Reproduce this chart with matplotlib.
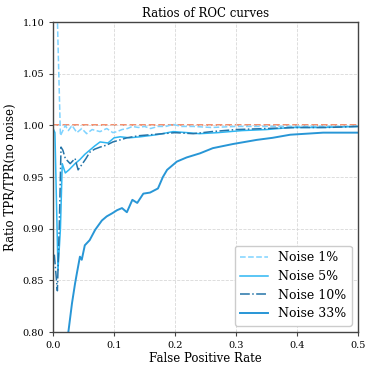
import numpy as np
import matplotlib.pyplot as plt

plt.rcParams['font.family'] = 'DejaVu Serif'

# false positive rate / ratio values
fpr_1 = [0.006, 0.008, 0.012, 0.02, 0.025, 0.031, 0.039, 0.047, 0.055, 0.064, 0.077, 0.088,
         0.098, 0.105, 0.113, 0.122, 0.13, 0.14, 0.15, 0.16, 0.172, 0.185, 0.197, 0.21,
         0.23, 0.26, 0.3, 0.35, 0.4, 0.45, 0.5]
ratio_1 = [1.13, 1.08, 0.990, 1.000, 0.995, 1.000, 0.993, 0.997, 0.992, 0.996, 0.994, 0.997,
           0.993, 0.994, 0.996, 0.997, 0.999, 0.998, 0.999, 0.997, 0.999, 0.999, 1.001, 0.999,
           0.999, 0.998, 0.999, 0.999, 0.999, 0.999, 0.999]

fpr_5 = [0.0, 0.003, 0.008, 0.012, 0.015, 0.02, 0.026, 0.031, 0.036, 0.044, 0.052, 0.06,
         0.068, 0.077, 0.09, 0.1, 0.11, 0.125, 0.143, 0.17, 0.197, 0.22, 0.24, 0.27,
         0.31, 0.35, 0.39, 0.44, 0.5]
ratio_5 = [0.997, 0.993, 0.86, 0.90, 0.963, 0.954, 0.957, 0.960, 0.963, 0.967, 0.972, 0.976,
           0.980, 0.984, 0.983, 0.988, 0.989, 0.988, 0.989, 0.991, 0.994, 0.993, 0.992, 0.993,
           0.995, 0.996, 0.998, 0.998, 0.999]

fpr_10 = [0.002, 0.007, 0.010, 0.013, 0.016, 0.02, 0.028, 0.036, 0.041, 0.047, 0.054, 0.06,
          0.068, 0.077, 0.088, 0.098, 0.11, 0.121, 0.14, 0.16, 0.18, 0.2, 0.23, 0.26, 0.3,
          0.35, 0.4, 0.45, 0.5]
ratio_10 = [0.875, 0.840, 0.90, 0.979, 0.976, 0.968, 0.963, 0.968, 0.957, 0.962, 0.968, 0.974,
            0.977, 0.979, 0.981, 0.984, 0.986, 0.988, 0.990, 0.991, 0.992, 0.993, 0.992, 0.994,
            0.996, 0.997, 0.998, 0.998, 0.999]

fpr_33 = [0.022, 0.025, 0.031, 0.036, 0.039, 0.044, 0.047, 0.052, 0.06, 0.069, 0.08, 0.088,
          0.097, 0.105, 0.113, 0.121, 0.13, 0.138, 0.148, 0.159, 0.172, 0.18, 0.187, 0.203,
          0.219, 0.241, 0.262, 0.295, 0.334, 0.36, 0.389, 0.443, 0.5]
ratio_33 = [0.78, 0.80, 0.828, 0.847, 0.857, 0.873, 0.870, 0.884, 0.889, 0.899, 0.908, 0.912,
            0.915, 0.918, 0.920, 0.916, 0.928, 0.925, 0.934, 0.935, 0.939, 0.950, 0.957, 0.965,
            0.969, 0.973, 0.978, 0.982, 0.986, 0.988, 0.991, 0.993, 0.993]

fig, ax = plt.subplots(figsize=(3.74, 3.74), dpi=100)
fig.subplots_adjust(left=0.142, right=0.957, top=0.941, bottom=0.112)

ax.axhline(1.0, color='#f4845f', ls='--', lw=1.3, zorder=1)
ax.plot(fpr_1, ratio_1, color='#7fd3ff', ls='--', lw=1.1, label='Noise 1%')
ax.plot(fpr_5, ratio_5, color='#2eb6f2', ls='-', lw=1.1, label='Noise 5%')
ax.plot(fpr_10, ratio_10, color='#2474a8', ls='-.', lw=1.1, label='Noise 10%')
ax.plot(fpr_33, ratio_33, color='#2896d6', ls='-', lw=1.4, label='Noise 33%')

ax.set_xlim(0, 0.5)
ax.set_ylim(0.80, 1.10)
ax.set_xticks(np.arange(0, 0.51, 0.1))
ax.set_yticks(np.arange(0.80, 1.101, 0.05))
ax.grid(True, ls='--', color='#d8d8d8', lw=0.6)
ax.tick_params(labelsize=7, length=3, width=0.8, color='#444444')
for s in ax.spines.values():
    s.set_color('#444444')
    s.set_linewidth(1.0)

ax.set_title('Ratios of ROC curves', fontsize=8.5, pad=4)
ax.set_xlabel('False Positive Rate', fontsize=8.5, labelpad=1)
ax.set_ylabel('Ratio TPR/TPR(no noise)', fontsize=8.5, labelpad=4)
ax.legend(loc='lower right', fontsize=9, handlelength=2.2, borderpad=0.45,
          labelspacing=0.45, fancybox=True, framealpha=1.0)

plt.savefig('out.png', dpi=100)
